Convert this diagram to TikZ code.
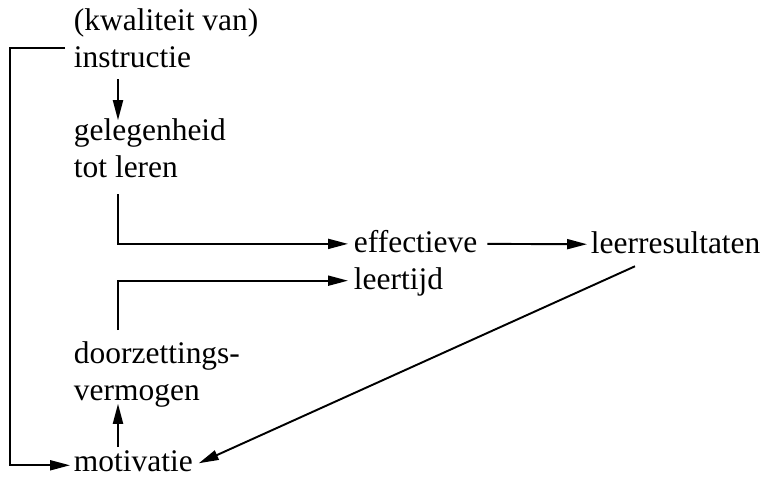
\documentclass[tikz,border=0pt]{standalone}
\usepackage{fontspec}
\setmainfont{Liberation Serif}
\usetikzlibrary{arrows.meta,calc}
\tikzset{>={Triangle[length=4mm,width=2mm]}}
\tikzset{lbl/.style={inner sep=0, align=left, anchor=base west,
    font=\fontsize{17.9}{20.5}\selectfont}}

\begin{document}
\begin{tikzpicture}[x=0.02cm,y=-0.02cm,line width=1.1pt]
\useasboundingbox (0,0) rectangle (763,478);

% base = last line
\node[lbl] (instr) at (73,67) {(kwaliteit van)\\instructie};
\node[lbl] (geleg) at (73,177) {gelegenheid\\tot leren};
\node[lbl] (effect) at (353,289) {effectieve\\leertijd};
\node[lbl] (res) at (590,253) {leerresultaten};
\node[lbl] (doorz) at (73,400) {doorzettings-\\vermogen};
\node[lbl] (motiv) at (73,471) {motivatie};

\coordinate (col) at (118,0);

% left column
\draw[->] ($(col |- instr.south)+(0,11)$) -- ($(col |- geleg.north)+(0,2)$);
\draw[->] ($(col |- motiv.north)+(0,-2)$) -- ($(col |- doorz.south)+(0,-4)$);
\draw[->] ($(instr.south west)+(-8,-20)$) -- ++(-55,0) |- ($(motiv.south west)+(-3,-7)$);

% towards effectieve leertijd
\draw[->] ($(col |- geleg.south)+(0,16)$) |- ($(effect.north west)+(-5,14)$);
\draw[->] ($(col |- doorz.north)+(0,-11)$) |- ($(effect.south west)+(-5,-16)$);

\draw[->] ($(effect.north east)+(9,14)$) -- ($(res.north west)+(-3,14)$);
\draw[->] ($(res.south west)+(45,12)$) -- ($(motiv.south east)+(5,-9)$);

\end{tikzpicture}
\end{document}
